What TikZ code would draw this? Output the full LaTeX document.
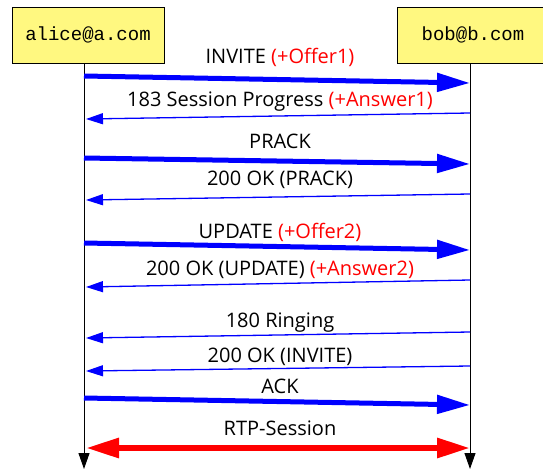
\documentclass[tikz,border=0pt]{standalone}
\usepackage{fontspec}
\setmainfont{Open Sans}
\newfontfamily\boxfont{Liberation Mono}
\usetikzlibrary{arrows.meta}

\tikzset{
  party/.style={draw=black, fill=yellow!50, minimum width=152pt, minimum height=56pt,
    inner sep=0pt, font=\boxfont\fontsize{19}{19}\selectfont},
  lifeline/.style={draw=black, line width=1pt, -{Triangle[length=16pt,width=11pt]}},
  request/.style={draw=blue, line width=5pt, -{Triangle[length=33pt,width=18pt]}},
  response/.style={draw=blue, line width=1.3pt, -{Triangle[length=17pt,width=11pt]}},
  media/.style={draw=red, line width=6pt,
    {Triangle[length=33pt,width=19pt]}-{Triangle[length=33pt,width=19pt]}},
  msg/.style={anchor=base, inner sep=0pt, font=\fontsize{20}{20}\selectfont},
}

\begin{document}
\begin{tikzpicture}[x=1pt,y=-1pt]
            \useasboundingbox (0,0) rectangle (543,469);

            % parties
            \node[party] (alice) at (88,35) {alice@a.com};
            \node[party] (bob) at (473,35) {bob@b.com};

            % lifelines
            \coordinate (a0) at (84,63);
            \coordinate (aend) at (84,469);
            \coordinate (b0) at (470,63);
            \coordinate (bend) at (470,469);
            \draw[lifeline] (a0) -- (aend);
            \draw[lifeline] (b0) -- (bend);

            % message ends
            \coordinate (a1) at (84,76);   \coordinate (b1) at (470,83);
            \coordinate (b2) at (470,113); \coordinate (a2) at (86,119);
            \coordinate (a3) at (84,158);  \coordinate (b3) at (470,164);
            \coordinate (b4) at (470,194); \coordinate (a4) at (86,200);
            \coordinate (a5) at (84,243);  \coordinate (b5) at (470,250);
            \coordinate (b6) at (470,280); \coordinate (a6) at (86,287);
            \coordinate (b7) at (470,332); \coordinate (a7) at (86,338);
            \coordinate (b8) at (470,366); \coordinate (a8) at (86,371);
            \coordinate (a9) at (84,398);  \coordinate (b9) at (470,405);
            \coordinate (a10) at (86,448); \coordinate (b10) at (470,448);

            % messages
            \draw[request] (a1) -- (b1);
            \draw[response] (b2) -- (a2);
            \draw[request] (a3) -- (b3);
            \draw[response] (b4) -- (a4);
            \draw[request] (a5) -- (b5);
            \draw[response] (b6) -- (a6);
            \draw[response] (b7) -- (a7);
            \draw[response] (b8) -- (a8);
            \draw[request] (a9) -- (b9);
            \draw[media] (a10) -- (b10);

            % labels
            \node[msg] (invite) at (280,63) {INVITE \textcolor{red}{(+Offer1)}};
            \node[msg] (progress) at (280,106) {183 Session Progress \textcolor{red}{(+Answer1)}};
            \node[msg] (prack) at (280,148) {PRACK};
            \node[msg] (okprack) at (280,185) {200 OK (PRACK)};
            \node[msg] (update) at (280,238) {UPDATE \textcolor{red}{(+Offer2)}};
            \node[msg] (okupdate) at (280,275) {200 OK (UPDATE) \textcolor{red}{(+Answer2)}};
            \node[msg] (ringing) at (280,327) {180 Ringing};
            \node[msg] (okinvite) at (280,362) {200 OK (INVITE)};
            \node[msg] (ack) at (280,393) {ACK};
            \node[msg] (rtp) at (280,435) {RTP-Session};
          \end{tikzpicture}
\end{document}
